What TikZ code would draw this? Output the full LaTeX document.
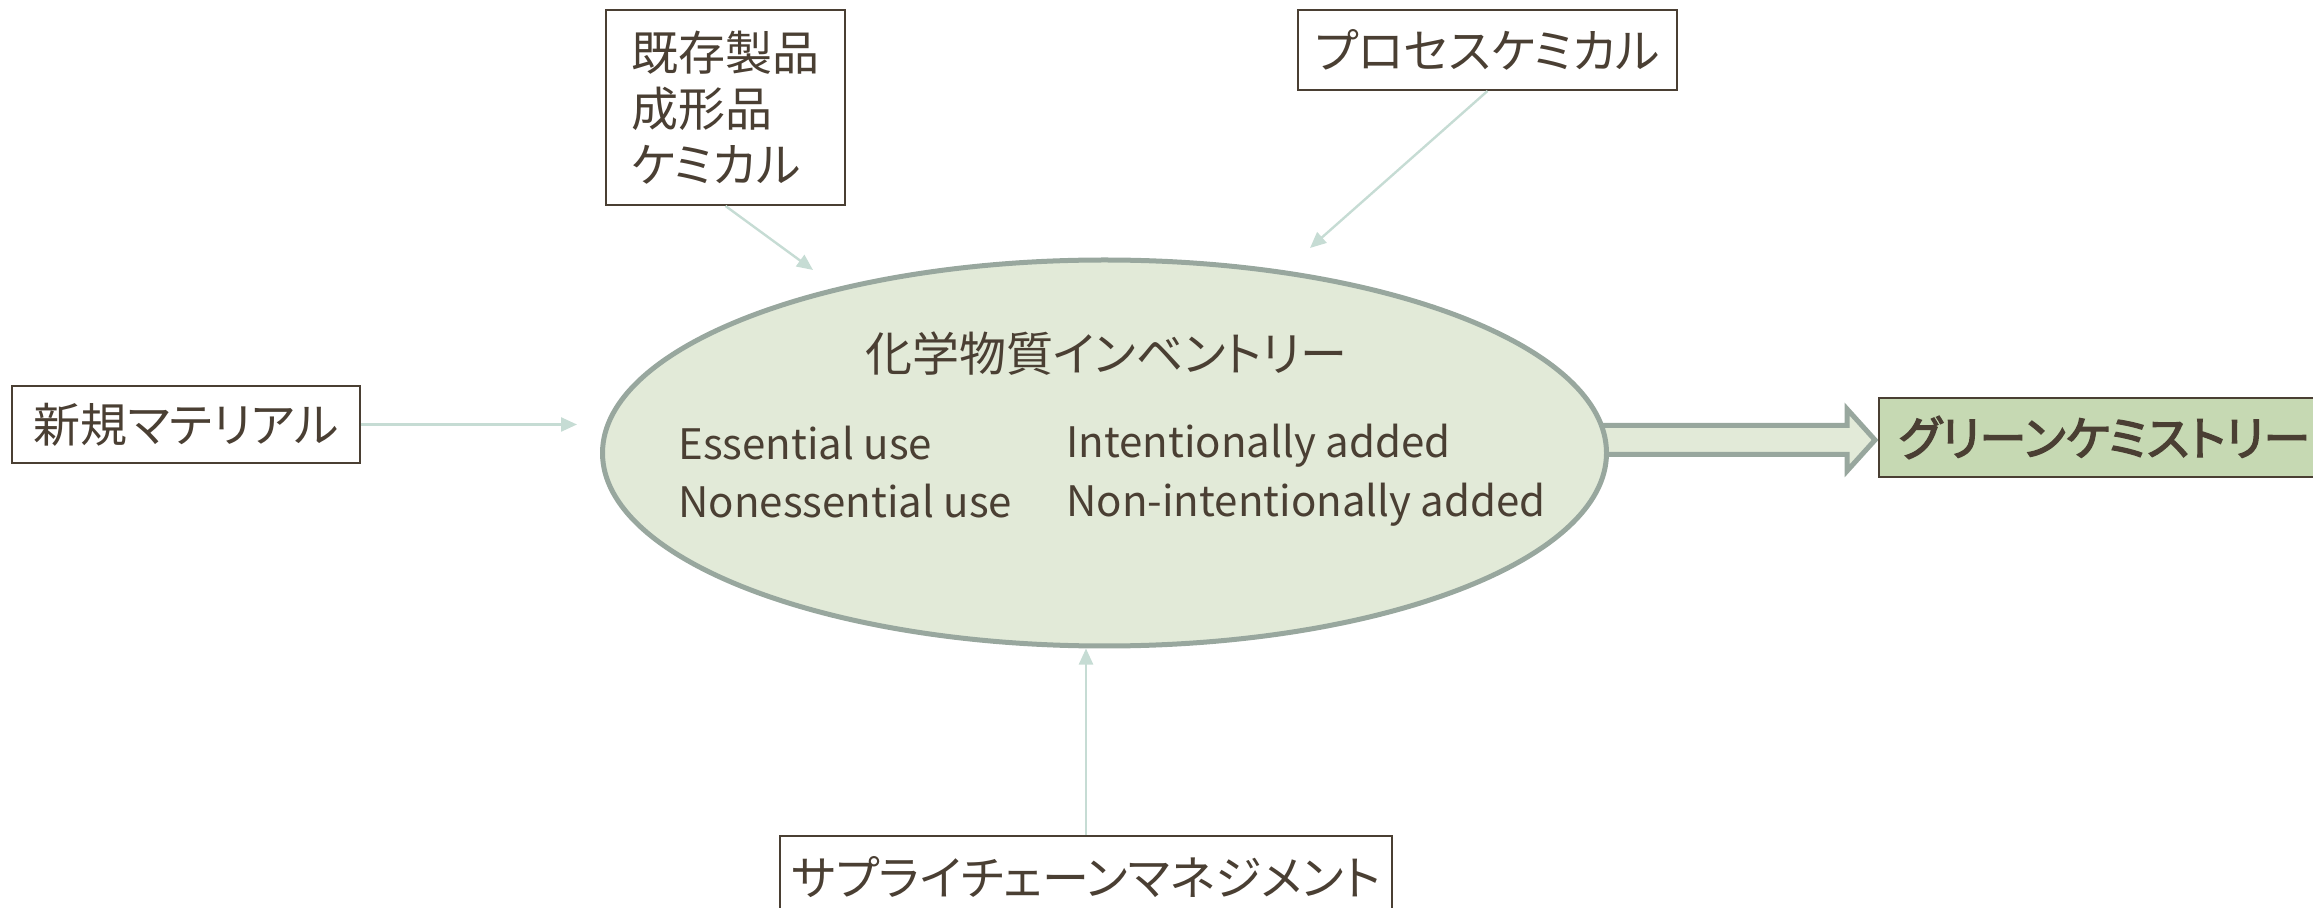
\documentclass[tikz,border=0pt]{standalone}
\usepackage{fontspec}
\newfontfamily\jpfont{Noto Sans CJK JP}[RawFeature=+palt]
\newfontfamily\jpbold{Noto Sans CJK JP}[RawFeature=+palt, FakeBold=3]
\usetikzlibrary{arrows.meta,shapes.geometric,backgrounds}
\definecolor{txt}{HTML}{4A3F33}
\definecolor{arr}{HTML}{C6DCD4}
\definecolor{ellfill}{HTML}{E2EAD8}
\definecolor{ellline}{HTML}{98A79E}
\definecolor{gbox}{HTML}{C6D9B3}
\tikzset{
  jp/.style={font=\jpfont\fontsize{23.5pt}{28pt}\selectfont},
  box/.style={jp, draw=txt, line width=1pt, fill=white, text=txt, inner sep=0pt},
  ell/.style={ellipse, draw=ellline, line width=2.5pt, fill=ellfill, inner sep=0pt},
  etxt/.style={font=\jpfont\fontsize{21pt}{25pt}\selectfont, text=txt, inner sep=0pt},
  conn/.style={draw=arr, line width=1.2pt, -{Triangle[length=8pt,width=7pt]}},
  bigarrow/.style={draw=ellline, fill=ellfill, line width=2.5pt}
}
\begin{document}
\begin{tikzpicture}[x=0.5pt,y=-0.5pt]
\useasboundingbox (0,0) rectangle (2313,908);
% boxes
\node[box, minimum width=119.5pt, minimum height=97.5pt, align=left] (A) at (725.5,107.5) {既存製品\\成形品\\ケミカル};
\node[box, minimum width=189.5pt, minimum height=40pt] (B) at (1487.5,50) {プロセスケミカル};
\node[box, minimum width=174pt, minimum height=38.5pt] (C) at (186,424.5) {新規マテリアル};
\node[box, fill=gbox, minimum width=225.5pt, minimum height=39.5pt, font=\jpbold\fontsize{23.5pt}{28pt}\selectfont] (G) at (2104.5,437.5) {グリーンケミストリー};
\node[box, minimum width=306pt, minimum height=41pt] (S) at (1086,877) {サプライチェーンマネジメント};
% ellipse
\node[ell, minimum width=502pt, minimum height=193pt] (E) at (1104.5,453) {};
\node[jp, text=txt, inner sep=0pt] (T) at (1106,354) {化学物質インベントリー};
\node[etxt, anchor=base west] (e1) at (678,460) {Essential use};
\node[etxt, anchor=base west] (e2) at (678,518) {Nonessential use};
\node[etxt, anchor=base west] (i1) at (1066,458) {Intentionally added};
\node[etxt, anchor=base west] (i2) at (1066,517) {Non-intentionally added};
% big arrow
\begin{scope}[on background layer]
\coordinate (bigtip) at (1875,440);
\draw[bigarrow] (1590,425.5) -- (1847,425.5) -- (1847,409) -- (bigtip) -- (1847,471) -- (1847,454.5) -- (1590,454.5) -- cycle;
\end{scope}
% connectors
\coordinate (aE) at (813,270);
\coordinate (bE) at (1310,248);
\coordinate (cE) at (577,424.5);
\draw[conn] (A.south) -- (aE);
\draw[conn] (B.south) -- (bE);
\draw[conn] (C.east) -- (cE);
\draw[conn] (S.north) -- (S.north |- E.south);
\end{tikzpicture}
\end{document}
